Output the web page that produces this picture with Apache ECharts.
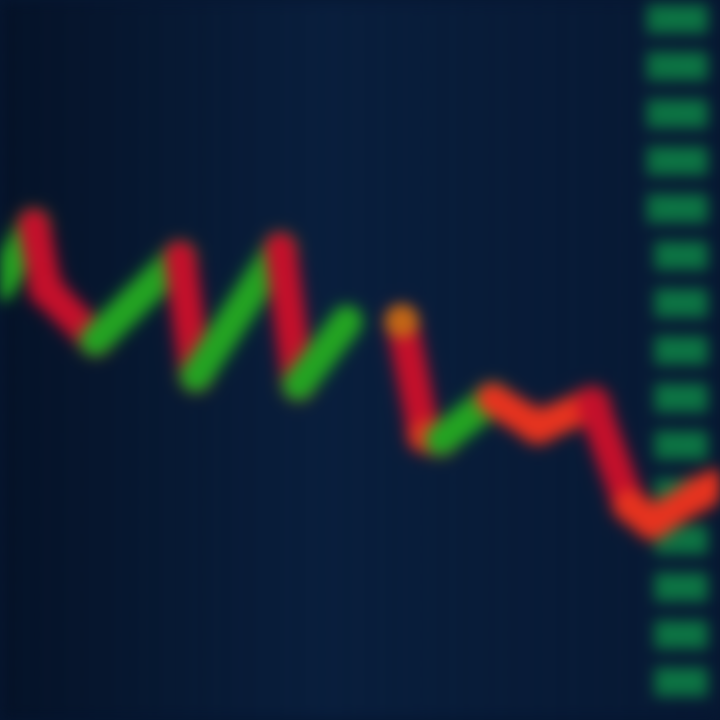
<!DOCTYPE html>
<html>
<head>
<meta charset="utf-8">
<script src="https://cdn.jsdelivr.net/npm/echarts@6/dist/echarts.min.js"></script>
<style>
html,body{margin:0;padding:0;background:#061630;overflow:hidden;}
#c{width:720px;height:720px;filter:blur(7px);}
</style>
</head>
<body>
<div id="c"></div>
<script>
// time positions (x) and prices (y); null marks a break in the line
const times  = [0, 34, 46, 96, 181, 197, 282, 300, 349, null, 404, 427, 443, 495, 541, 596, 633, 656, 702, 720];
const prices = [91.9, 98.3, 91.5, 86.1, 94.9, 82.3, 95.8, 81.4, 88.1, null, 88.1, 76.0, 75.6, 79.9, 76.9, 79.4, 68.7, 66.8, 69.8, 70.8];
const priceTicks = [50, 55, 60, 65, 70, 75, 80, 85, 90, 95, 100, 105, 110, 115, 120];
const markerTime = [404];
const markerPrice = [88.1];

const series = [];
for (let i = 0; i < times.length - 1; i++) {
  if (times[i] === null || times[i + 1] === null) continue;
  const d = prices[i + 1] - prices[i];
  const slope = d / (times[i + 1] - times[i]);
  let color;
  if (slope > 0.069) color = '#23a322';
  else if (Math.abs(slope) < 0.085) color = '#e5331f';
  else color = '#c3102b';
  series.push({
    type: 'line',
    data: [[times[i], prices[i]], [times[i + 1], prices[i + 1]]],
    symbol: 'none',
    z: 3,
    lineStyle: { color: color, width: 28, cap: 'round', join: 'round', shadowBlur: 12, shadowColor: color },
    silent: true
  });
}
series.push({
  type: 'scatter',
  data: markerTime.map((t, i) => [t, markerPrice[i]]),
  symbolSize: 34,
  z: 4,
  itemStyle: { color: '#c27a12' }
});

const chart = echarts.init(document.getElementById('c'));
chart.setOption({
  backgroundColor: {
    type: 'linear', x: 0, y: 0, x2: 1, y2: 0,
    colorStops: [{ offset: 0, color: '#041126' }, { offset: 0.45, color: '#081d3b' }, { offset: 1, color: '#061731' }]
  },
  animation: false,
  grid: { left: 0, right: 4, top: 0, bottom: 0 },
  xAxis: {
    type: 'value', min: 0, max: 720, interval: 24,
    axisLine: { show: false }, axisTick: { show: false }, axisLabel: { show: false },
    splitLine: { show: true, lineStyle: { color: 'rgba(60,105,160,0.35)', type: 'dotted', width: 1 } }
  },
  yAxis: [{
    type: 'value', min: 46, max: 122, position: 'right',
    axisLine: { show: false }, axisTick: { show: false },
    splitLine: { show: false },
    axisLabel: {
      inside: true,
      customValues: priceTicks,
      formatter: v => v.toFixed(2),
      color: '#14864f',
      backgroundColor: '#0b6e40',
      padding: [8, 10],
      fontFamily: 'Roboto',
      fontSize: 13,
      fontWeight: 'bold'
    }
  }, {
    type: 'value', min: 46, max: 122, interval: 2, show: true,
    axisLine: { show: false }, axisTick: { show: false }, axisLabel: { show: false },
    splitLine: { show: true, lineStyle: { color: 'rgba(60,105,160,0.3)', type: 'dotted', width: 1 } }
  }],
  series: series
});
</script>
</body>
</html>
